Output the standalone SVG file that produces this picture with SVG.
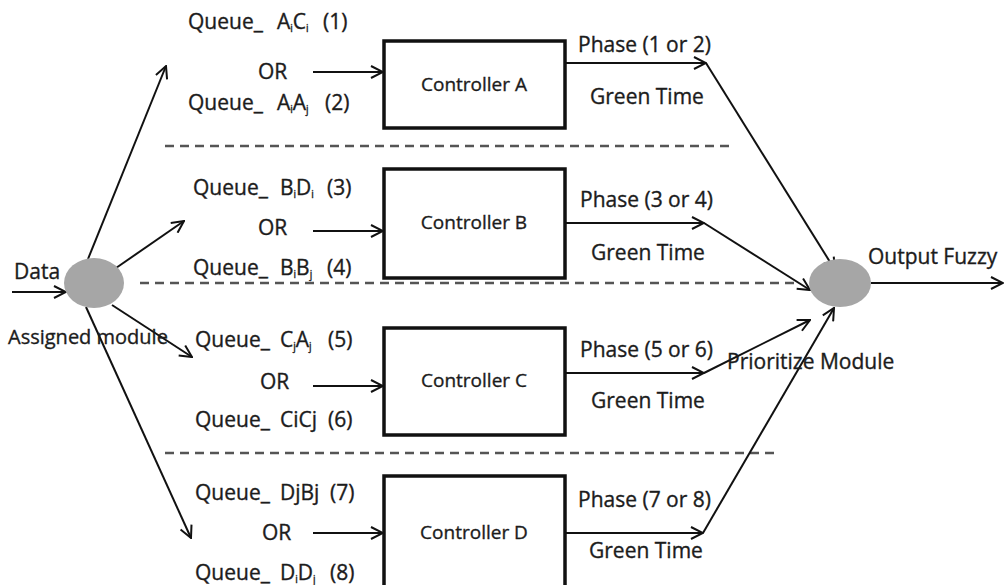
<svg xmlns="http://www.w3.org/2000/svg" width="1004" height="585" viewBox="0 0 1004 585">
  <defs>
    <marker id="arrow" viewBox="0 0 14 14" refX="13" refY="7" markerWidth="14" markerHeight="14" markerUnits="userSpaceOnUse" orient="auto">
      <path d="M1,1 L13,7 L1,13" fill="none" stroke="#111" stroke-width="2"/>
    </marker>
  </defs>
  <style>
    text { font-family: "Open Sans", "Liberation Sans", sans-serif; font-size: 21px; fill: #1c1c1c; stroke: #1c1c1c; stroke-width: 0.35px; }
    .sub { font-size: 10px; }
    .box { fill: #fff; stroke: #111; stroke-width: 3.5; }
    .name { font-size: 19px; text-anchor: middle; }
    .hub { fill: #a6a6a6; }
    .arr { fill: none; stroke: #111; stroke-width: 2; marker-end: url(#arrow); }
    .sep { fill: none; stroke: #555; stroke-width: 2.5; stroke-dasharray: 9 6; }
  </style>
  <rect width="1004" height="585" fill="#fff"/>

  <!-- separators between the four controller lanes -->
  <g id="separators">
    <line class="sep" x1="165" y1="146" x2="732" y2="146"/>
    <line class="sep" x1="140" y1="283" x2="795" y2="283"/>
    <line class="sep" x1="165" y1="453" x2="778" y2="453"/>
  </g>

  <g id="connectors">
    <!-- input into the assignment hub -->
    <line class="arr" x1="12" y1="292" x2="66" y2="292"/>
    <!-- hub fan-out to the four queue groups -->
    <line class="arr" x1="88" y1="259" x2="166" y2="66"/>
    <line class="arr" x1="116" y1="268" x2="184" y2="221"/>
    <line class="arr" x1="112" y1="305" x2="192" y2="357"/>
    <line class="arr" x1="86" y1="307" x2="191" y2="538"/>
    <!-- queues into controllers -->
    <line class="arr" x1="313" y1="72" x2="383" y2="72"/>
    <line class="arr" x1="313" y1="231" x2="383" y2="231"/>
    <line class="arr" x1="313" y1="386" x2="383" y2="386"/>
    <line class="arr" x1="313" y1="533" x2="383" y2="533"/>
    <!-- controller outputs -->
    <line class="arr" x1="565" y1="63" x2="706" y2="63"/>
    <line class="arr" x1="565" y1="223" x2="704" y2="223"/>
    <line class="arr" x1="565" y1="373" x2="704" y2="373"/>
    <line class="arr" x1="565" y1="533" x2="703" y2="533"/>
    <!-- phases into the prioritize hub -->
    <line class="arr" x1="706" y1="63" x2="835" y2="270"/>
    <line class="arr" x1="704" y1="223" x2="810" y2="290"/>
    <line class="arr" x1="704" y1="373" x2="810" y2="320"/>
    <line class="arr" x1="703" y1="533" x2="834" y2="308"/>
    <!-- final output -->
    <line class="arr" x1="871" y1="283" x2="1003" y2="283"/>
  </g>

  <g id="assigned-module">
    <ellipse class="hub" cx="94" cy="283" rx="30" ry="25"/>
    <text x="14" y="279">Data</text>
    <text x="8" y="344" style="font-size:20px">Assigned module</text>
  </g>

  <g id="queues-a">
    <text y="29"><tspan x="188">Queue_</tspan><tspan x="277">A</tspan><tspan class="sub" dy="3">i</tspan><tspan dy="-3">C</tspan><tspan class="sub" dy="3">i</tspan><tspan x="323" dy="-3">(1)</tspan></text>
    <text x="258" y="79">OR</text>
    <text y="110"><tspan x="188">Queue_</tspan><tspan x="277">A</tspan><tspan class="sub" dy="3">i</tspan><tspan dy="-3">A</tspan><tspan class="sub" dy="3">j</tspan><tspan x="325" dy="-3">(2)</tspan></text>
  </g>
  <g id="controller-a">
    <rect class="box" x="384" y="41" width="181" height="87"/>
    <text class="name" x="474" y="91">Controller A</text>
  </g>
  <g id="output-a">
    <text x="578" y="52">Phase (1 or 2)</text>
    <text x="590" y="104">Green Time</text>
  </g>

  <g id="queues-b">
    <text y="195"><tspan x="193">Queue_</tspan><tspan x="280">B</tspan><tspan class="sub" dy="3">i</tspan><tspan dy="-3">D</tspan><tspan class="sub" dy="3">i</tspan><tspan x="327" dy="-3">(3)</tspan></text>
    <text x="258" y="235">OR</text>
    <text y="275"><tspan x="193">Queue_</tspan><tspan x="280">B</tspan><tspan class="sub" dy="3">i</tspan><tspan dy="-3">B</tspan><tspan class="sub" dy="3">j</tspan><tspan x="327" dy="-3">(4)</tspan></text>
  </g>
  <g id="controller-b">
    <rect class="box" x="384" y="169" width="181" height="109"/>
    <text class="name" x="474" y="229">Controller B</text>
  </g>
  <g id="output-b">
    <text x="580" y="207">Phase (3 or 4)</text>
    <text x="591" y="260">Green Time</text>
  </g>

  <g id="queues-c">
    <text y="347"><tspan x="195">Queue_</tspan><tspan x="280">C</tspan><tspan class="sub" dy="3">j</tspan><tspan dy="-3">A</tspan><tspan class="sub" dy="3">j</tspan><tspan x="328" dy="-3">(5)</tspan></text>
    <text x="260" y="389">OR</text>
    <text y="427"><tspan x="195">Queue_</tspan><tspan x="280">CiCj</tspan><tspan x="328">(6)</tspan></text>
  </g>
  <g id="controller-c">
    <rect class="box" x="384" y="328" width="181" height="107"/>
    <text class="name" x="474" y="387">Controller C</text>
  </g>
  <g id="output-c">
    <text x="580" y="357">Phase (5 or 6)</text>
    <text x="591" y="408">Green Time</text>
  </g>

  <g id="queues-d">
    <text y="500"><tspan x="195">Queue_</tspan><tspan x="280">DjBj</tspan><tspan x="330">(7)</tspan></text>
    <text x="262" y="540">OR</text>
    <text y="580"><tspan x="195">Queue_</tspan><tspan x="280">D</tspan><tspan class="sub" dy="3">i</tspan><tspan dy="-3">D</tspan><tspan class="sub" dy="3">j</tspan><tspan x="330" dy="-3">(8)</tspan></text>
  </g>
  <g id="controller-d">
    <rect class="box" x="384" y="476" width="181" height="120"/>
    <text class="name" x="474" y="539">Controller D</text>
  </g>
  <g id="output-d">
    <text x="578" y="507">Phase (7 or 8)</text>
    <text x="589" y="558">Green Time</text>
  </g>

  <g id="prioritize-module">
    <ellipse class="hub" cx="840" cy="283" rx="31" ry="24"/>
    <text x="868" y="264">Output Fuzzy</text>
    <text x="727" y="369">Prioritize Module</text>
  </g>
</svg>
